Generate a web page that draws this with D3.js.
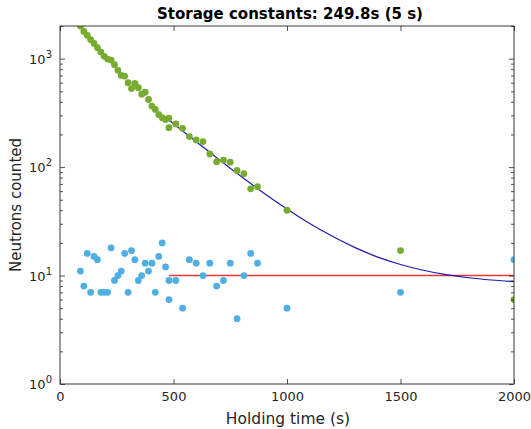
<!DOCTYPE html>
<html>
<head>
<meta charset="utf-8">
<script src="https://cdn.jsdelivr.net/npm/d3@7"></script>
<style>
  body { margin: 0; background: #fff; }
  svg { font-family: "DejaVu Sans", sans-serif; }
</style>
</head>
<body>
<div id="chart"></div>
<script>
// holding times (s), shared by both series
const times = [90, 105, 120, 135, 150, 165, 180, 195, 210, 225, 240, 255, 270, 285, 300,
  315, 330, 345, 360, 375, 390, 405, 420, 435, 450, 465, 480, 480,
  510, 540, 570, 600, 630, 660, 690, 720, 750, 780, 810, 840, 870,
  1000, 1500, 2000];
// neutron counts (green)
const neutrons = [2000, 1780, 1640, 1500, 1380, 1260, 1150, 1050, 990, 970, 880, 780, 700, 690, 600,
  530, 590, 540, 470, 490, 420, 365, 340, 305, 285, 275, 283, 231,
  250, 228, 191, 178, 172, 132, 112, 116, 111, 93, 87, 63, 66,
  40, 17, 6];
// background counts (light blue)
const background = [11, 8, 16, 7, 15, 14, 7, 7, 7, 18, 9, 10, 11, 16, 7,
  17, 14, 9, 10, 13, 11, 13, 7, 15, 20, 12, 9, 6,
  9, 5, 14, 13, 10, 13, 8, 9, 13, 4, 10, 16, 13,
  5, 7, 14];
// fit curve
const fitTimes = [480, 550, 600, 650, 700, 800, 900, 1000, 1100, 1200, 1300, 1400, 1500, 1600, 1700, 1800, 1900, 2000];
const fitCounts = [272, 207, 171, 142, 117.5, 81.3, 57.2, 41.1, 30.2, 23.0, 18.1, 14.8, 12.65, 11.2, 10.2, 9.54, 9.1, 8.8];
// mean background level
const bgTimes = [480, 2000];
const bgLevel = [10, 10];

const xTicks = [0, 500, 1000, 1500, 2000];
const yTicks = [1, 10, 100, 1000];

const W = 531, H = 429;
const mLeft = 60, mRight = 514, mTop = 26, mBottom = 384;

const svg = d3.select("#chart").append("svg").attr("width", W).attr("height", H);

const x = d3.scaleLinear().domain([0, 2000]).range([mLeft, mRight]);
const y = d3.scaleLog().domain([1, 2000]).range([mBottom, mTop]);

// clip
svg.append("defs").append("clipPath").attr("id", "clip")
  .append("rect").attr("x", mLeft).attr("y", mTop).attr("width", mRight - mLeft).attr("height", mBottom - mTop);

const plot = svg.append("g").attr("clip-path", "url(#clip)");

// background line
plot.append("path")
  .datum(bgTimes.map((t, i) => [t, bgLevel[i]]))
  .attr("fill", "none").attr("stroke", "#e8383c").attr("stroke-width", 1.6)
  .attr("d", d3.line().x(d => x(d[0])).y(d => y(d[1])));

// fit
plot.append("path")
  .datum(fitTimes.map((t, i) => [t, fitCounts[i]]))
  .attr("fill", "none").attr("stroke", "#1c1cb0").attr("stroke-width", 1.2)
  .attr("d", d3.line().curve(d3.curveMonotoneX).x(d => x(d[0])).y(d => y(d[1])));

// points
plot.selectAll("circle.g").data(times.map((t, i) => [t, neutrons[i]])).enter()
  .append("circle").attr("class", "g")
  .attr("cx", d => x(d[0])).attr("cy", d => y(d[1])).attr("r", 3.4)
  .attr("fill", "#77ac30");
plot.selectAll("circle.b").data(times.map((t, i) => [t, background[i]])).enter()
  .append("circle").attr("class", "b")
  .attr("cx", d => x(d[0])).attr("cy", d => y(d[1])).attr("r", 3.4)
  .attr("fill", "#4faee3");

// axes
const axisColor = "#262626";
svg.append("g").attr("transform", `translate(0,${mBottom})`)
  .call(d3.axisBottom(x).tickValues(xTicks).tickSize(-5).tickPadding(8).tickFormat(d3.format("d")));
svg.append("g").attr("transform", `translate(0,${mTop})`)
  .call(d3.axisTop(x).tickValues(xTicks).tickSize(-5).tickFormat(""));

const minor = [];
for (let e = 0; e < 4; e++) for (let m = 2; m <= 9; m++) {
  const v = m * Math.pow(10, e);
  if (v <= 2000) minor.push(v);
}
svg.append("g").attr("transform", `translate(${mLeft},0)`)
  .call(d3.axisLeft(y).tickValues(yTicks).tickSize(-5).tickFormat(""));
svg.append("g").attr("transform", `translate(${mRight},0)`)
  .call(d3.axisRight(y).tickValues(yTicks).tickSize(-5).tickFormat(""));
svg.append("g").attr("transform", `translate(${mLeft},0)`)
  .call(d3.axisLeft(y).tickValues(minor).tickSize(-3).tickFormat(""));
svg.append("g").attr("transform", `translate(${mRight},0)`)
  .call(d3.axisRight(y).tickValues(minor).tickSize(-3).tickFormat(""));

svg.selectAll(".domain").remove();
svg.selectAll(".tick line").attr("stroke", axisColor).attr("stroke-width", 0.8);
svg.selectAll(".tick text").attr("fill", axisColor).attr("font-size", 13)
  .attr("font-family", "DejaVu Sans, sans-serif");

// y labels 10^n
yTicks.forEach(v => {
  const t = svg.append("text").attr("x", mLeft - 8).attr("y", y(v) + 5)
    .attr("text-anchor", "end").attr("fill", axisColor).attr("font-size", 13);
  t.append("tspan").text("10");
  t.append("tspan").attr("dy", -6).attr("font-size", 10).text(Math.round(Math.log10(v)));
});

// box
svg.append("rect").attr("x", mLeft).attr("y", mTop).attr("width", mRight - mLeft).attr("height", mBottom - mTop)
  .attr("fill", "none").attr("stroke", axisColor).attr("stroke-width", 0.9);

// titles
svg.append("text").attr("x", 290).attr("y", 19).attr("text-anchor", "middle")
  .attr("font-weight", "bold").attr("font-size", 15).attr("fill", "#000")
  .text("Storage constants: 249.8s (5 s)");
svg.append("text").attr("x", 288).attr("y", 424).attr("text-anchor", "middle")
  .attr("font-size", 15.5).attr("fill", axisColor).text("Holding time (s)");
svg.append("text").attr("transform", `translate(21,${(mTop + mBottom) / 2}) rotate(-90)`)
  .attr("text-anchor", "middle").attr("font-size", 15).attr("fill", axisColor).text("Neutrons counted");
</script>
</body>
</html>
